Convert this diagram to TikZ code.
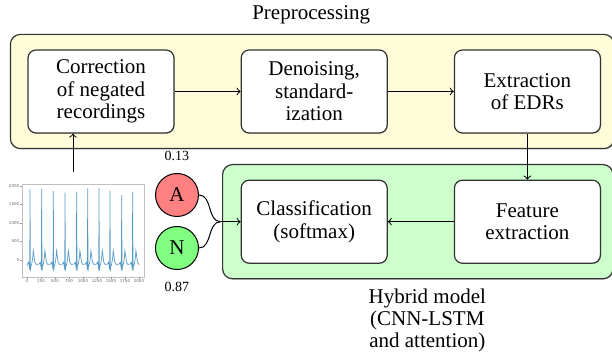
\documentclass[tikz,border=0pt]{standalone}
\usepackage{fontspec}
\setmainfont{Liberation Serif}
\newfontfamily\boxfont{Liberation Serif}
\newfontfamily\tickfont{DejaVu Sans}
\usetikzlibrary{positioning,fit,backgrounds,shadows}
\definecolor{ecgblue}{RGB}{31,119,180}

\tikzset{
  stage/.style={draw=black!80, line width=0.6pt, fill=white, rounded corners=4pt,
    minimum width=73pt, minimum height=41.5pt, align=center, inner sep=2pt,
    drop shadow={shadow xshift=0.35pt, shadow yshift=-0.35pt, fill=black!45}},
  panel/.style={draw=black!80, line width=0.6pt, rounded corners=5pt, inner sep=7.5pt,
    drop shadow={shadow xshift=0.4pt, shadow yshift=-0.4pt, fill=black!45}},
  prob/.style={circle, draw=black, line width=0.5pt, minimum size=21.5pt, inner sep=0pt},
  ecgline/.style={line width=0.35pt, color=ecgblue, opacity=0.75},
  ticklabel/.style={inner sep=0.5pt, text=black!60, font=\tickfont\fontsize{2}{2.4}\selectfont},
}

\begin{document}
\begin{tikzpicture}[x=0.5pt, y=-0.5pt, font=\boxfont\fontsize{10.5}{11.2}\selectfont, >=to, line width=0.5pt]
\useasboundingbox (0,0) rectangle (612,352);

\node[stage] (corr) at (101,91.5) {Correction\\of negated\\recordings};
\node[stage, right=33pt of corr] (denoise) {Denoising,\\standard-\\ization};
\node[stage, right=33pt of denoise] (edr) {Extraction\\of EDRs};
\node[stage, below=23pt of edr] (feat) {Feature\\extraction};
\node[stage, below=23pt of denoise] (classif) {Classification\\(softmax)};

\begin{scope}[on background layer]
  \node[panel, fill=yellow!15, fit=(corr)(edr), xshift=-1pt] (prep) {};
  \node[panel, fill=green!20, fit=(classif)(feat), xshift=-1.5pt] (hybrid) {};
\end{scope}
\node[above=1.3pt of prep, xshift=-0.5pt] (preptitle) {Preprocessing};
\node[below=1pt of hybrid, xshift=4.75pt, align=center] (hybridtitle) {Hybrid model\\(CNN-LSTM\\and attention)};

% class probabilities
\node[prob, fill=red!50] (abn) at (177,195) {A};
\node[prob, fill=green!50, below=4.5pt of abn] (nor) {N};
\node[above=2.4pt of abn, font=\boxfont\fontsize{7}{8}\selectfont] (pabn) {0.13};
\node[below=2.4pt of nor, font=\boxfont\fontsize{7}{8}\selectfont] (pnor) {0.87};

\coordinate[left=10pt of classif.west] (join);
\draw (abn.east) to[out=0, in=180] (join);
\draw (nor.east) to[out=0, in=180] (join);
\draw[->] (join) -- (classif.west);

\draw[->] (corr) -- (denoise);
\draw[->] (denoise) -- (edr);
\draw[->] (edr) -- (feat);
\draw[->] (feat) -- (classif);

% ecg recording
\begin{scope}[shift={(27,260)}, x=0.028pt, y=0.0185pt]
  \draw[black!25, line width=0.3pt] (-89,-459) rectangle (2089,2054);
  \foreach \t in {0,500,...,2000}
    \draw[black!40, line width=0.2pt] (-89,\t) -- ++(-30,0) node[ticklabel, left] (ytick\t) {\t};
  \foreach \t in {0,250,...,2000}
    \draw[black!40, line width=0.2pt] (\t,-459) -- ++(0,-50) node[ticklabel, below] (xtick\t) {\t};
  \draw[ecgline] (0,-160) foreach \r/\h in {54/1911, 262/1919, 470/1865, 679/1819, 887/1846,
      1084/1938, 1286/1946, 1482/1873, 1691/1757, 1887/1838} {
    -- ({\r-45},-110) -- ({\r-25},-60) -- ({\r-12},-180) -- ({\r-5},-260) -- (\r,\h)
    -- ({\r+6},-300) -- ({\r+14},-170) -- ({\r+30},-110) -- ({\r+48},60) -- ({\r+58},250)
    -- ({\r+70},120) -- ({\r+85},-60) -- ({\r+110},-120)
  } -- (2000,-110);
\end{scope}
\coordinate (ecg) at (73,172);
\draw[->] (ecg) -- (ecg |- corr.south);
\end{tikzpicture}
\end{document}
